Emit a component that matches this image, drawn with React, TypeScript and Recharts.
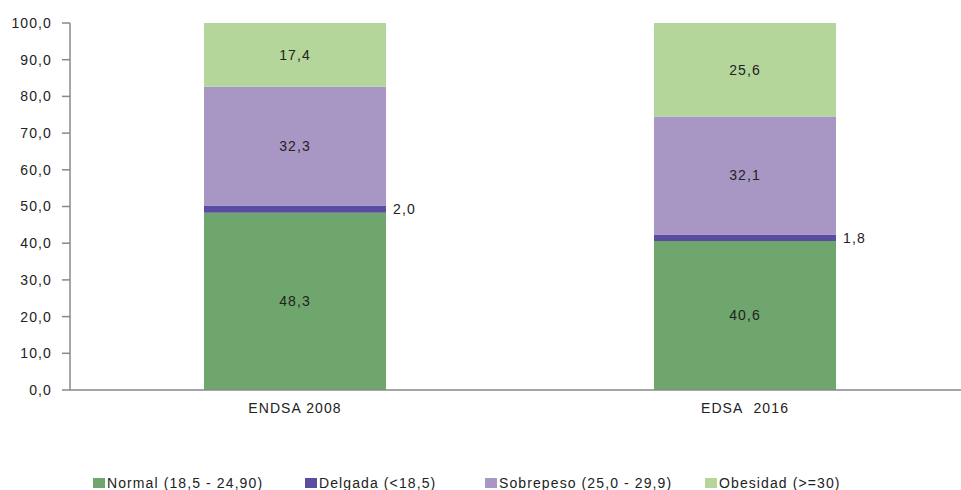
import { BarChart, Bar, XAxis, YAxis, Legend, LabelList } from "recharts";

const CATEGORIES = ["ENDSA 2008", "EDSA\u00a0\u00a02016"];
const NORMAL = [48.3, 40.6];
const DELGADA = [2.0, 1.8];
const SOBREPESO = [32.3, 32.1];
const OBESIDAD = [17.4, 25.6];
const Y_TICKS = [0, 10, 20, 30, 40, 50, 60, 70, 80, 90, 100];

const SERIES = [
  { key: "normal", name: "Normal (18,5 - 24,90)", color: "#6ea66d" },
  { key: "delgada", name: "Delgada (<18,5)", color: "#5a4ca0" },
  { key: "sobrepeso", name: "Sobrepeso (25,0 - 29,9)", color: "#a897c4" },
  { key: "obesidad", name: "Obesidad (>=30)", color: "#b4d69b" },
];

const data = CATEGORIES.map((name, i) => ({
  name,
  normal: NORMAL[i],
  delgada: DELGADA[i],
  sobrepeso: SOBREPESO[i],
  obesidad: OBESIDAD[i],
}));

const FONT = "'Liberation Sans', Arial, sans-serif";
const fmt = (v: number) => v.toFixed(1).replace(".", ",");
const textStyle = { fontFamily: FONT, fontSize: 14, fill: "#222", letterSpacing: 1.1 };

// width of each legend item, in px
const LEGEND_WIDTHS = [212, 180, 220, 180];

function ChartLegend() {
  return (
    <div style={{ height: 70, width: 961, position: "relative" }}>
      <div style={{ display: "flex", paddingTop: 55, paddingLeft: 93 }}>
        {SERIES.map((s, i) => (
          <div
            key={s.key}
            style={{ display: "flex", alignItems: "center", width: LEGEND_WIDTHS[i], height: 16 }}
          >
            <span style={{ width: 12, height: 10, background: s.color, marginRight: 2, display: "inline-block" }} />
            <span style={{ fontFamily: FONT, fontSize: 14, color: "#222", letterSpacing: 1.1, whiteSpace: "nowrap" }}>
              {s.name}
            </span>
          </div>
        ))}
      </div>
    </div>
  );
}

export default function App() {
  return (
    <div style={{ position: "absolute", left: 0, top: 0, width: 961, height: 490, background: "#fff" }}>
      <BarChart
        width={961}
        height={490}
        data={data}
        margin={{ top: 23, right: -9, left: 0, bottom: 0 }}
      >
        <XAxis
          dataKey="name"
          height={30}
          tickLine={false}
          tickSize={0}
          tickMargin={13}
          axisLine={{ stroke: "#888", strokeWidth: 1.5 }}
          tick={textStyle}
        />
        <YAxis
          width={70}
          domain={[0, 100]}
          ticks={Y_TICKS}
          allowDataOverflow
          tickSize={8}
          tickMargin={10}
          tickFormatter={fmt}
          axisLine={{ stroke: "#888", strokeWidth: 1.5 }}
          tickLine={{ stroke: "#888", strokeWidth: 1.5 }}
          tick={textStyle}
        />
        <Legend verticalAlign="bottom" content={() => <ChartLegend />} />
        {SERIES.map((s) => (
          <Bar
            key={s.key}
            dataKey={s.key}
            name={s.name}
            stackId="a"
            fill={s.color}
            barSize={182}
            isAnimationActive={false}
          >
            <LabelList
              dataKey={s.key}
              position={s.key === "delgada" ? "right" : "center"}
              offset={7}
              formatter={(v: number) => fmt(v)}
              style={{ ...textStyle, fill: "#222" }}
            />
          </Bar>
        ))}
      </BarChart>
    </div>
  );
}
